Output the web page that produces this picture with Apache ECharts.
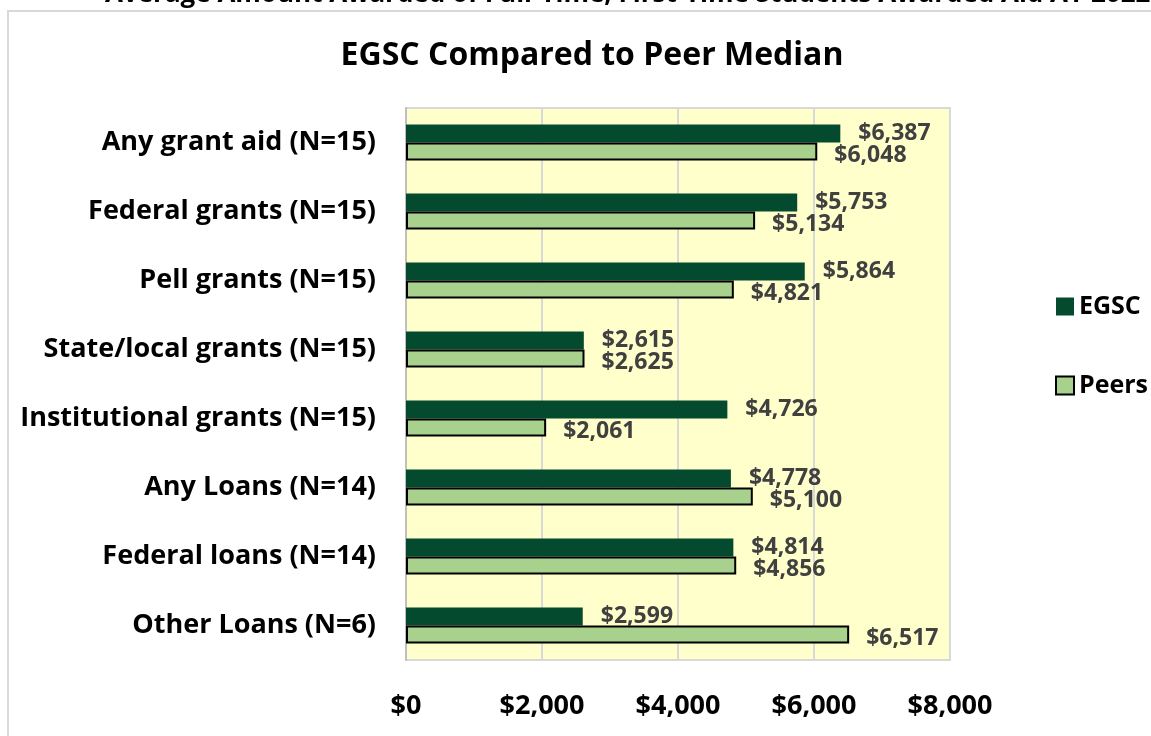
<!DOCTYPE html>
<html>
<head>
<meta charset="utf-8">
<script src="https://cdn.jsdelivr.net/npm/echarts@6/dist/echarts.min.js"></script>
<style>
  html, body { margin: 0; padding: 0; background: #fff; }
  #main { width: 1151px; height: 736px; }
</style>
</head>
<body>
<div id="main"></div>
<script>
var categories = ['Any grant aid (N=15)', 'Federal grants (N=15)', 'Pell grants (N=15)', 'State/local grants (N=15)',
    'Institutional grants (N=15)', 'Any Loans (N=14)', 'Federal loans (N=14)', 'Other Loans (N=6)'];
var egscValues = [6387, 5753, 5864, 2615, 4726, 4778, 4814, 2599];
var peerValues = [6048, 5134, 4821, 2625, 2061, 5100, 4856, 6517];
var xTicks = [0, 2000, 4000, 6000, 8000];

var fontName = '"Open Sans", Lato, sans-serif';

function money(v) {
    return '$' + v.toLocaleString('en-US');
}

var chart = echarts.init(document.getElementById('main'));
chart.setOption({
    backgroundColor: '#fff',
    textStyle: { fontFamily: fontName },
    graphic: [{
        type: 'rect',
        shape: { x: 8, y: 11, width: 1160, height: 740 },
        style: { fill: 'none', stroke: '#d9d9d9', lineWidth: 2 },
        z: -1
    }, {
        type: 'text',
        left: 105,
        top: -18,
        style: {
            text: 'Average Amount Awarded of Full-Time, First-Time Students Awarded Aid AY 2022',
            font: 'bold 26px ' + fontName,
            fill: '#000'
        }
    }],
    title: {
        text: 'EGSC Compared to Peer Median',
        left: 587,
        textAlign: 'center',
        top: 35,
        textStyle: { fontSize: 32, fontWeight: 'bold', color: '#000', fontFamily: fontName }
    },
    legend: {
        orient: 'vertical',
        left: 1050,
        top: 289,
        itemGap: 54,
        itemWidth: 18,
        itemHeight: 18,
        icon: 'rect',
        textStyle: { fontSize: 25, fontWeight: 'bold', color: '#000', fontFamily: fontName },
        data: ['EGSC', 'Peers']
    },
    grid: {
        left: 406, right: 201, top: 108, bottom: 76,
        show: true,
        backgroundColor: '#ffffcc',
        borderColor: '#d9d9d9',
        borderWidth: 2
    },
    xAxis: {
        type: 'value',
        min: xTicks[0],
        max: xTicks[xTicks.length - 1],
        interval: 2000,
        axisLine: { show: false },
        axisTick: { show: false },
        splitLine: { lineStyle: { color: '#d9d9d9', width: 2 } },
        axisLabel: {
            margin: 33,
            fontSize: 27,
            fontWeight: 'bold',
            color: '#000',
            fontFamily: fontName,
            formatter: function (v) { return money(v); }
        }
    },
    yAxis: {
        type: 'category',
        inverse: true,
        data: categories,
        axisLine: { show: true, lineStyle: { color: '#bfbfbf', width: 2 } },
        axisTick: { show: false },
        axisLabel: {
            margin: 30,
            fontSize: 27,
            fontWeight: 'bold',
            color: '#000',
            fontFamily: fontName,
            padding: [6, 0, 0, 0]
        }
    },
    series: [{
        name: 'EGSC',
        type: 'bar',
        data: egscValues,
        barGap: '0%',
        barCategoryGap: '48%',
        itemStyle: { color: '#034a2e' },
        label: {
            show: true,
            position: 'right',
            distance: 18,
            offset: [0, 0],
            fontSize: 23,
            fontWeight: 'bold',
            color: '#404040',
            fontFamily: fontName,
            formatter: function (p) { return money(p.value); }
        }
    }, {
        name: 'Peers',
        type: 'bar',
        data: peerValues,
        itemStyle: { color: '#a9d18e', borderColor: '#000', borderWidth: 2 },
        label: {
            show: true,
            position: 'right',
            distance: 17,
            offset: [0, 4],
            fontSize: 23,
            fontWeight: 'bold',
            color: '#404040',
            fontFamily: fontName,
            formatter: function (p) { return money(p.value); }
        }
    }]
});
</script>
</body>
</html>
